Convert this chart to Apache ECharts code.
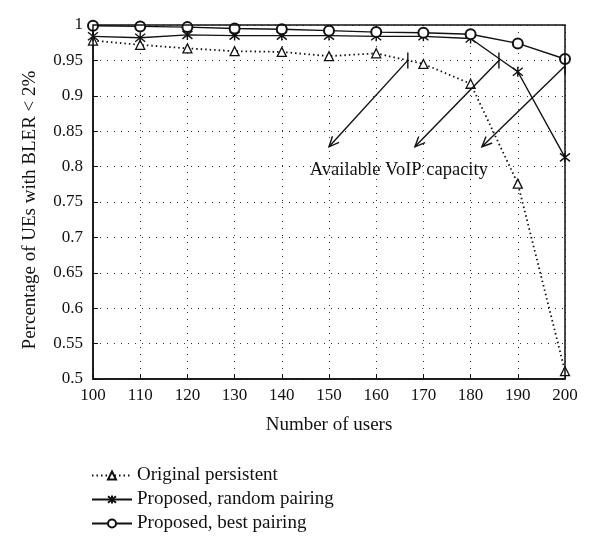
<!DOCTYPE html>
<html>
<head>
<meta charset="utf-8">
<script src="https://cdn.jsdelivr.net/npm/echarts@6/dist/echarts.min.js"></script>
<style>html,body{margin:0;padding:0;background:#fff}#c{width:600px;height:551px}</style>
</head>
<body>
<div id="c"></div>
<script>
var users = [100, 110, 120, 130, 140, 150, 160, 170, 180, 190, 200];
var originalPersistent = [0.978, 0.972, 0.967, 0.963, 0.962, 0.956, 0.960, 0.945, 0.917, 0.776, 0.511];
var randomPairing = [0.984, 0.982, 0.986, 0.985, 0.985, 0.985, 0.984, 0.984, 0.981, 0.934, 0.813];
var bestPairing = [0.999, 0.998, 0.997, 0.995, 0.994, 0.992, 0.990, 0.989, 0.987, 0.974, 0.952];
var seriesNames = ['Original persistent', 'Proposed, random pairing', 'Proposed, best pairing'];
// arrows: [startX, startY, endX, endY]
var arrowStarts = [[166.7, 0.95], [186, 0.95], [200, 0.942]];
var arrowEnds = [[150, 0.828], [168.2, 0.828], [182.4, 0.828]];
var annotationText = 'Available VoIP capacity';
var annotationPos = [164.8, 0.795];

var FONT = 'Liberation Serif';
function pairs(ys) { return users.map(function (x, i) { return [x, ys[i]]; }); }
var asterisk = 'path://M0,-5L0,5M-4,-4L4,4M-4,4L4,-4';

var arrowData = arrowStarts.map(function (s, i) { return [s[0], s[1], arrowEnds[i][0], arrowEnds[i][1]]; });

var chart = echarts.init(document.getElementById('c'));
chart.setOption({
  animation: false,
  backgroundColor: '#fff',
  grid: { left: 93, right: 35, top: 25, bottom: 172 },
  xAxis: {
    type: 'value', min: 100, max: 200, interval: 10,
    name: 'Number of users', nameLocation: 'middle', nameGap: 37,
    nameTextStyle: { fontFamily: FONT, fontSize: 19, color: '#111' },
    axisLine: { lineStyle: { color: '#111', width: 1.5 } },
    axisTick: { inside: true, length: 5, lineStyle: { color: '#111' } },
    axisLabel: { fontFamily: FONT, fontSize: 17, color: '#111', margin: 8 },
    splitLine: { show: true, lineStyle: { color: '#333', type: [1, 6], width: 1 } }
  },
  yAxis: {
    type: 'value', min: 0.5, max: 1, interval: 0.05,
    name: 'Percentage of UEs with BLER < 2%', nameLocation: 'middle', nameGap: 53,
    nameTextStyle: { fontFamily: FONT, fontSize: 19, color: '#111', padding: [0, 16, 0, 0] },
    axisLine: { show: true, lineStyle: { color: '#111', width: 1.5 } },
    axisTick: { show: true, inside: true, length: 5, lineStyle: { color: '#111' } },
    axisLabel: { fontFamily: FONT, fontSize: 17, color: '#111', margin: 10,
      formatter: function (v) { return String(parseFloat(v.toFixed(2))); } },
    splitLine: { show: true, lineStyle: { color: '#333', type: [1, 6], width: 1 } }
  },
  legend: {
    orient: 'vertical', left: 86, top: 461,
    itemWidth: 40, itemHeight: 10, itemGap: 5,
    textStyle: { fontFamily: FONT, fontSize: 19, color: '#111' },
    data: seriesNames
  },
  graphic: [
    { type: 'rect', shape: { x: 93, y: 25, width: 472, height: 354 }, style: { fill: 'none', stroke: '#111', lineWidth: 1.5 }, silent: true, z: 10 }
  ],
  series: [
    {
      name: seriesNames[0], type: 'line', data: pairs(originalPersistent),
      symbol: 'triangle', symbolSize: 9, showAllSymbol: true,
      lineStyle: { color: '#111', width: 1.8, type: [1.5, 3] },
      itemStyle: { color: '#fff', borderColor: '#111', borderWidth: 1.3 },
      z: 3
    },
    {
      name: seriesNames[1], type: 'line', data: pairs(randomPairing),
      symbol: asterisk, symbolSize: 10, showAllSymbol: true,
      lineStyle: { color: '#111', width: 1.4 },
      itemStyle: { color: '#111', borderColor: '#111', borderWidth: 1.4 },
      z: 4
    },
    {
      name: seriesNames[2], type: 'line', data: pairs(bestPairing),
      symbol: 'emptyCircle', symbolSize: 10, showAllSymbol: true,
      lineStyle: { color: '#111', width: 1.4 },
      itemStyle: { color: '#111', borderColor: '#111', borderWidth: 1.2 },
      z: 5
    },
    {
      type: 'custom', name: 'arrows', clip: false, z: 6, silent: true,
      data: arrowData,
      renderItem: function (params, api) {
        var s = api.coord([api.value(0), api.value(1)]);
        var e = api.coord([api.value(2), api.value(3)]);
        var ang = Math.atan2(s[1] - e[1], s[0] - e[0]);
        var L = 11, a = 0.42;
        var h1 = [e[0] + L * Math.cos(ang + a), e[1] + L * Math.sin(ang + a)];
        var h2 = [e[0] + L * Math.cos(ang - a), e[1] + L * Math.sin(ang - a)];
        var st = { stroke: '#111', lineWidth: 1.4, fill: null };
        return {
          type: 'group',
          children: [
            { type: 'line', shape: { x1: s[0], y1: s[1], x2: e[0], y2: e[1] }, style: st },
            { type: 'polyline', shape: { points: [h1, e, h2] }, style: st },
            { type: 'line', shape: { x1: s[0], y1: s[1] - 8, x2: s[0], y2: s[1] + 8 }, style: st }
          ]
        };
      }
    },
    {
      type: 'custom', name: 'annotation', clip: false, z: 6, silent: true,
      data: [annotationPos],
      renderItem: function (params, api) {
        var p = api.coord([api.value(0), api.value(1)]);
        return {
          type: 'text', x: p[0], y: p[1],
          style: { text: annotationText, fontFamily: FONT, fontSize: 18.5, fill: '#111', align: 'center', verticalAlign: 'middle' }
        };
      }
    }
  ]
});
</script>
</body>
</html>
